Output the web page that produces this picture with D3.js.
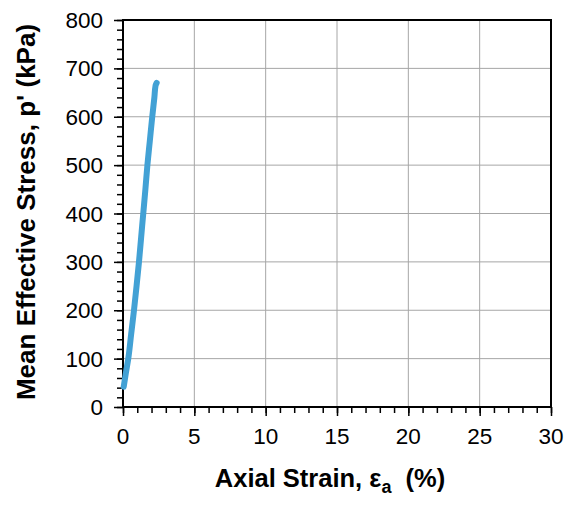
<!DOCTYPE html>
<html>
<head>
<meta charset="utf-8">
<script src="https://cdn.jsdelivr.net/npm/d3@7"></script>
<style>
  body { margin: 0; background: #fff; }
  text { font-family: "Liberation Sans", Arial, sans-serif; }
</style>
</head>
<body>
<svg id="chart" width="574" height="506"></svg>
<script>
"use strict";

// axial strain (%) and mean effective stress p' (kPa)
var strain = [0.05, 0.2, 0.37, 0.57, 0.77, 0.95, 1.12, 1.27, 1.42, 1.57, 1.71, 1.88, 2.05, 2.2, 2.28, 2.36];
var stress = [42, 70, 100, 150, 200, 250, 300, 350, 400, 450, 500, 550, 600, 640, 664, 670];

var xTicks = [0, 5, 10, 15, 20, 25, 30];
var yTicks = [0, 100, 200, 300, 400, 500, 600, 700, 800];

var Draw = (function() {
  var svg = d3.select("#chart");
  var left = 123, right = 551, top = 20, bottom = 407;

  var x = d3.scaleLinear().domain([0, 30]).range([left, right]);
  var y = d3.scaleLinear().domain([0, 800]).range([bottom, top]);

  // gridlines
  svg.append("g").selectAll("line").data(xTicks.slice(1, -1))
    .enter().append("line")
    .attr("x1", d => x(d)).attr("x2", d => x(d))
    .attr("y1", top).attr("y2", bottom)
    .attr("stroke", "#a6a6a6").attr("stroke-width", 1);
  svg.append("g").selectAll("line").data(yTicks.slice(1, -1))
    .enter().append("line")
    .attr("x1", left).attr("x2", right)
    .attr("y1", d => y(d)).attr("y2", d => y(d))
    .attr("stroke", "#a6a6a6").attr("stroke-width", 1);

  // minor ticks (every 1 % and 20 kPa) and major ticks, pointing outward
  var gx = svg.append("g").attr("transform", "translate(0," + bottom + ")")
    .call(d3.axisBottom(x).ticks(30).tickSize(6).tickFormat(""));
  var gy = svg.append("g").attr("transform", "translate(" + left + ",0)")
    .call(d3.axisLeft(y).ticks(40).tickSize(6).tickFormat(""));
  var gx2 = svg.append("g").attr("transform", "translate(0," + bottom + ")")
    .call(d3.axisBottom(x).tickValues(xTicks).tickSize(9).tickFormat(""));
  var gy2 = svg.append("g").attr("transform", "translate(" + left + ",0)")
    .call(d3.axisLeft(y).tickValues(yTicks).tickSize(9).tickFormat(""));
  [gx, gy, gx2, gy2].forEach(g => {
    g.select(".domain").remove();
    g.selectAll(".tick line").attr("stroke", "#000").attr("stroke-width", 1.5);
  });

  // tick labels
  svg.append("g").selectAll("text").data(xTicks)
    .enter().append("text")
    .attr("x", d => x(d)).attr("y", 444)
    .attr("text-anchor", "middle").attr("font-size", 22.5).attr("fill", "#000")
    .text(d => d);
  svg.append("g").selectAll("text").data(yTicks)
    .enter().append("text")
    .attr("x", 103).attr("y", d => y(d)).attr("dy", "0.36em")
    .attr("text-anchor", "end").attr("font-size", 22.5).attr("fill", "#000")
    .text(d => d);

  // plot frame
  svg.append("rect")
    .attr("x", left).attr("y", top)
    .attr("width", right - left).attr("height", bottom - top)
    .attr("fill", "none").attr("stroke", "#000").attr("stroke-width", 2);

  // the curve
  var pts = strain.map((s, i) => [s, stress[i]]);
  svg.append("path")
    .datum(pts)
    .attr("d", d3.line().x(d => x(d[0])).y(d => y(d[1])).curve(d3.curveMonotoneY))
    .attr("fill", "none").attr("stroke", "#42a1d5")
    .attr("stroke-width", 6).attr("stroke-linecap", "round").attr("stroke-linejoin", "round");

  // axis titles
  var xt = svg.append("text")
    .attr("x", 330).attr("y", 487)
    .attr("text-anchor", "middle").attr("font-size", 25.5).attr("font-weight", "bold");
  xt.append("tspan").text("Axial Strain, ");
  xt.append("tspan").text("ε");
  xt.append("tspan").attr("font-size", 18).attr("dy", 6).text("a");
  xt.append("tspan").attr("dy", -6).text("\u00a0 (%)");

  svg.append("text")
    .attr("transform", "translate(35,212) rotate(-90)")
    .attr("text-anchor", "middle").attr("font-size", 26).attr("font-weight", "bold")
    .text("Mean Effective Stress, p' (kPa)");
});

Draw();
</script>
</body>
</html>
